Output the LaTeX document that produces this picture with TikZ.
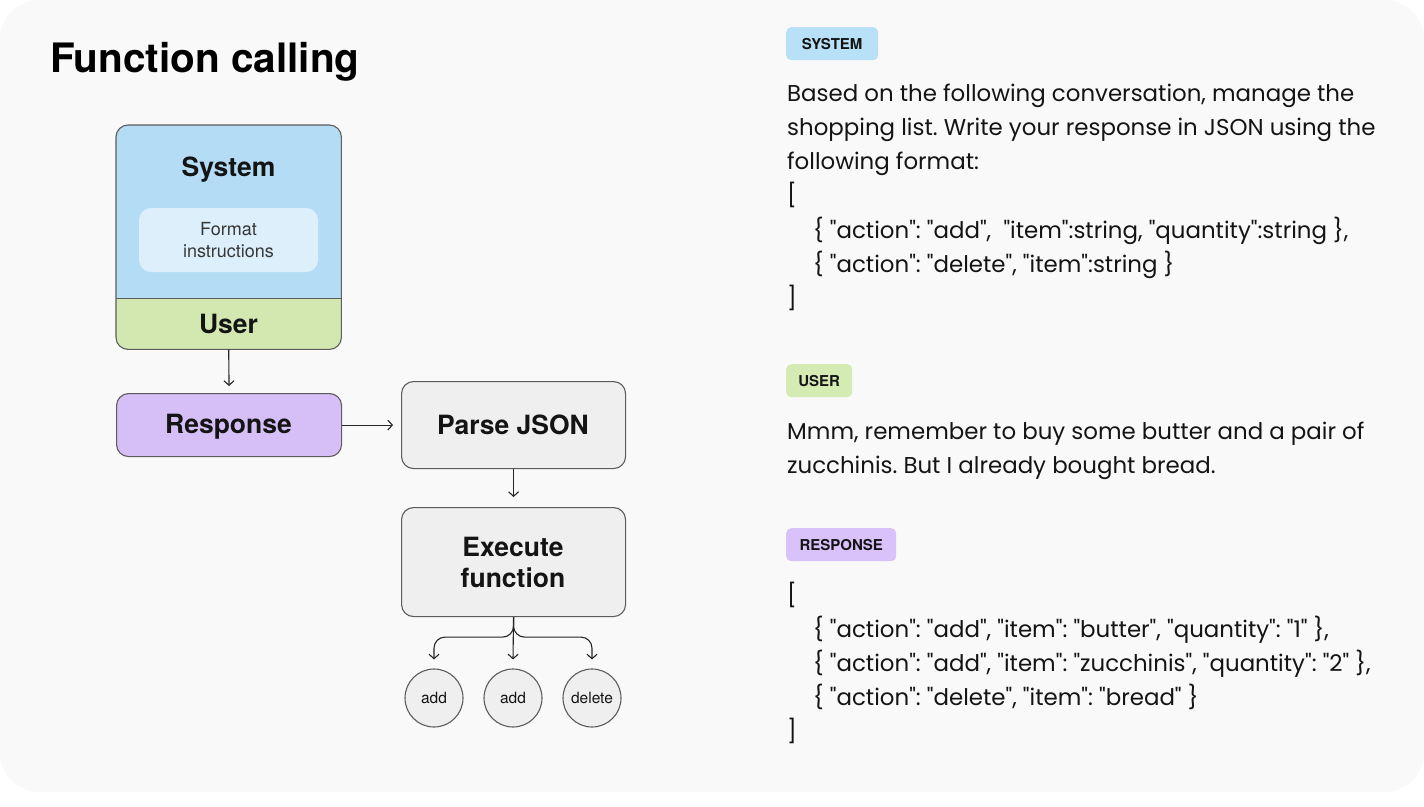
\documentclass[tikz,border=0pt]{standalone}
\usepackage{fontspec}
\setmainfont{Poppins}[Ligatures=TeXOff]
\newfontfamily\hfont{TeX Gyre Heros}
\usetikzlibrary{arrows.meta}
\frenchspacing
\definecolor{bgcol}{HTML}{F9F9F9}
\definecolor{sysblue}{HTML}{B4DDF5}
\definecolor{fmtblue}{HTML}{DCEFFB}
\definecolor{usergreen}{HTML}{D3E8B0}
\definecolor{resppurple}{HTML}{D6BEF7}
\definecolor{boxgray}{HTML}{EFEFEF}
\definecolor{edgecol}{HTML}{5C5C5C}
\definecolor{txt}{HTML}{141414}
\definecolor{tagblue}{HTML}{B8E0F6}
\definecolor{taggreen}{HTML}{D5EBB4}
\definecolor{tagpurple}{HTML}{D9C1F9}
\tikzset{
  flowbox/.style={draw=edgecol, line width=1.1pt, rounded corners=12pt, inner sep=0pt},
  boxlabel/.style={anchor=base, inner sep=0pt, text=txt, font=\hfont\bfseries\fontsize{26.5}{31}\selectfont},
  callnode/.style={circle, draw=edgecol, line width=1.1pt, fill=boxgray, minimum size=58pt, inner sep=0pt,
    text=txt, font=\hfont\fontsize{15.5}{18}\selectfont},
  arr/.style={draw=black!85, line width=1.1pt, -{Straight Barb[length=4.5pt,width=10pt]}},
  tag/.style={rounded corners=5pt, minimum height=33pt, inner sep=0pt, anchor=north west, text=txt,
    font=\hfont\bfseries\fontsize{15}{16}\selectfont},
  body/.style={anchor=base west, inner sep=0pt, text=txt, font=\fontsize{22.9}{26}\selectfont},
}
\begin{document}
\begin{tikzpicture}[x=1pt,y=-1pt]
\useasboundingbox (0,0) rectangle (1424,806);
\fill[white] (0,0) rectangle (1424,806);
\fill[bgcol, rounded corners=40pt] (0,0) rectangle (1424,792);

% title
\node[anchor=base west, inner sep=0pt, text=black, font=\hfont\bfseries\fontsize{40.5}{44}\selectfont] (title) at (50,72) {Function calling};

% system / user box
\node[minimum width=225pt, minimum height=173pt, inner sep=0pt, anchor=north west] (sys) at (116,125) {};
\node[minimum width=225pt, minimum height=51pt, inner sep=0pt, anchor=north west] (user) at (116,298) {};
\begin{scope}
  \clip[rounded corners=12pt] (sys.north west) rectangle (user.south east);
  \fill[sysblue] (sys.north west) rectangle (sys.south east);
  \fill[usergreen] (user.north west) rectangle (user.south east);
\end{scope}
\draw[edgecol, line width=1.1pt] (sys.south west) -- (sys.south east);
\draw[edgecol, line width=1.1pt, rounded corners=12pt] (sys.north west) rectangle (user.south east);
\node[boxlabel] (systxt) at (228.5,176) {System};
\node[fill=fmtblue, rounded corners=12pt, minimum width=179pt, minimum height=64pt, inner sep=0pt] (fmt) at (228.5,240) {};
\node[anchor=base, inner sep=0pt, text=txt!85, font=\hfont\fontsize{18}{22}\selectfont] (fmt1) at (228.5,235) {Format};
\node[anchor=base, inner sep=0pt, text=txt!85, font=\hfont\fontsize{18}{22}\selectfont] (fmt2) at (228.5,257) {instructions};
\node[boxlabel] (usertxt) at (228.5,333) {User};

% flow boxes
\node[flowbox, fill=resppurple, minimum width=225pt, minimum height=63pt, anchor=north west] (resp) at (116,393) {};
\node[boxlabel] (resptxt) at (228.5,433) {Response};
\node[flowbox, fill=boxgray, minimum width=224pt, minimum height=87pt, anchor=north west] (parse) at (401,381) {};
\node[boxlabel] (parsetxt) at (513,434) {Parse JSON};
\node[flowbox, fill=boxgray, minimum width=224pt, minimum height=109pt, anchor=north west] (exec) at (401,507) {};
\node[boxlabel] (exectxt1) at (513,556) {Execute};
\node[boxlabel] (exectxt2) at (513,587) {function};

\node[callnode] (c1) at (434,698) {add};
\node[callnode] (c2) at (513,698) {add};
\node[callnode] (c3) at (592,698) {delete};

% connectors
\draw[arr] (user.south) -- ([yshift=7pt]resp.north);
\draw[arr] (resp.east) -- ([xshift=-8pt]parse.west);
\draw[arr] (parse.south) -- ([yshift=10pt]exec.north);
\draw[arr] (exec.south) -- ([yshift=9pt]c2.north);
\draw[arr, rounded corners=11pt] (exec.south) -- ++(0,20) -| ([yshift=9pt]c1.north);
\draw[arr, rounded corners=11pt] (exec.south) -- ++(0,20) -| ([yshift=9pt]c3.north);

% right column
\node[tag, fill=tagblue, minimum width=92pt] (tsys) at (786,27) {SYSTEM};
\node[body] (s1) at (787,101) {Based on the following conversation, manage the};
\node[body] (s2) at (787,135) {shopping list. Write your response in JSON using the};
\node[body] (s3) at (787,169) {following format:};
\node[body] (s4) at (787,203) {[};
\node[body] (s5) at (813,238) {\{ "action": "add",\ \ "item":string, "quantity":string \},};
\node[body] (s6) at (813,272) {\{ "action": "delete", "item":string \}};
\node[body] (s7) at (787,306) {]};

\node[tag, fill=taggreen, minimum width=66pt] (tuser) at (786,364) {USER};
\node[body] (u1) at (787,439) {Mmm, remember to buy some butter and a pair of};
\node[body] (u2) at (787,473) {zucchinis. But I already bought bread.};

\node[tag, fill=tagpurple, minimum width=110pt] (tresp) at (786,528) {RESPONSE};
\node[body] (r1) at (787,603) {[};
\node[body] (r2) at (813,637) {\{ "action": "add", "item": "butter", "quantity": "1" \},};
\node[body] (r3) at (813,671) {\{ "action": "add", "item": "zucchinis", "quantity": "2" \},};
\node[body] (r4) at (813,705) {\{ "action": "delete", "item": "bread" \}};
\node[body] (r5) at (787,739) {]};
\end{tikzpicture}
\end{document}
